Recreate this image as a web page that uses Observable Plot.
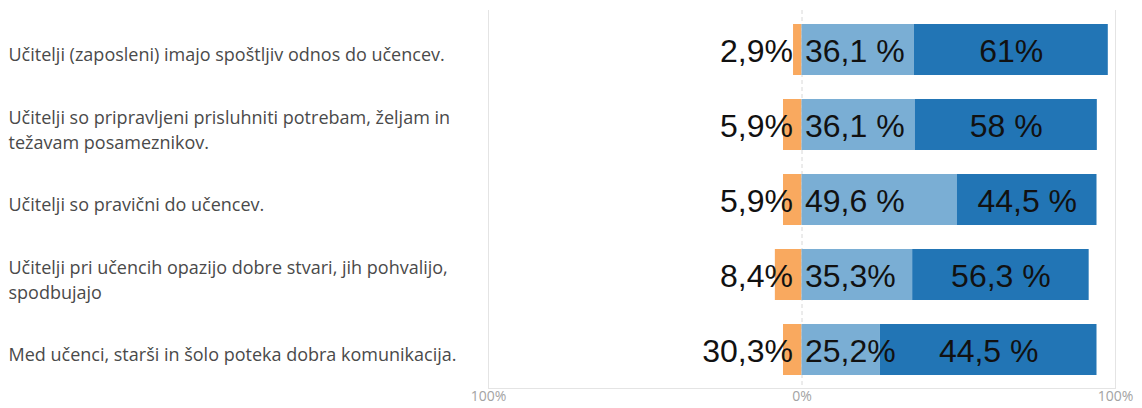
<!DOCTYPE html>
<html><head><meta charset="utf-8">
<script src="https://cdn.jsdelivr.net/npm/d3@7"></script>
<script src="https://cdn.jsdelivr.net/npm/@observablehq/plot@0.6"></script>
<style>body{margin:0;background:#fff}</style>
</head><body><div id="chart"></div>
<script>
const categories = [
  "Učitelji (zaposleni) imajo spoštljiv odnos do učencev.",
  "Učitelji so pripravljeni prisluhniti potrebam, željam in težavam posameznikov.",
  "Učitelji so pravični do učencev.",
  "Učitelji pri učencih opazijo dobre stvari, jih pohvalijo, spodbujajo",
  "Med učenci, starši in šolo poteka dobra komunikacija."
];
const categoryLabels = [
  "Učitelji (zaposleni) imajo spoštljiv odnos do učencev.",
  "Učitelji so pripravljeni prisluhniti potrebam, željam in\ntežavam posameznikov.",
  "Učitelji so pravični do učencev.",
  "Učitelji pri učencih opazijo dobre stvari, jih pohvalijo,\nspodbujajo",
  "Med učenci, starši in šolo poteka dobra komunikacija."
];
const series = ["Ne drži", "Delno drži", "Drži"];
const seriesColors = ["#f9a95f", "#7aaed4", "#2275b5"];
const negative = [2.7, 5.9, 5.9, 8.5, 5.9];
const partly = [35.8, 36.1, 49.6, 35.3, 25.0];
const fully = [61.9, 58.1, 44.5, 56.3, 69.1];
const negLabels = ["2,9%", "5,9%", "5,9%", "8,4%", "30,3%"];
const partlyLabels = ["36,1 %", "36,1 %", "49,6 %", "35,3%", "25,2%"];
const fullyLabels = ["61%", "58 %", "44,5 %", "56,3 %", "44,5 %"];
const xTicks = [-100, 0, 100];
const xTickLabels = ["100%", "0%", "100%"];

const rows = categories.flatMap((c, i) => [
  {cat: c, series: series[0], value: -negative[i]},
  {cat: c, series: series[1], value: partly[i]},
  {cat: c, series: series[2], value: fully[i]}
]);
const labelRows = categories.map((c, i) => ({
  cat: c, label: categoryLabels[i],
  neg: negLabels[i], mid: partlyLabels[i], high: fullyLabels[i],
  highX: partly[i] + fully[i] / 2
}));

const valueFont = {fontFamily: "'Liberation Sans', Arial, sans-serif", fontSize: 32, fill: "#111"};

const chart = Plot.plot({
  width: 1142, height: 408,
  marginLeft: 488, marginRight: 27, marginTop: 10, marginBottom: 20,
  style: {fontFamily: "'Open Sans', sans-serif", background: "#fff"},
  x: {domain: [-100, 100], axis: null},
  y: {domain: categories, axis: null, paddingInner: 0.325, paddingOuter: 0, insetTop: 13, insetBottom: 12},
  color: {domain: series, range: seriesColors},
  marks: [
    Plot.ruleX([-100, 100], {stroke: "#e4e4e4"}),
    Plot.ruleX([0], {stroke: "#d8d8d8", strokeDasharray: "4,3"}),
    Plot.frame({anchor: "bottom", stroke: "#e4e4e4"}),
    Plot.barX(rows, Plot.stackX({x: "value", y: "cat", fill: "series", order: null})),
    Plot.text(labelRows, {x: 0, y: "cat", text: "neg", textAnchor: "end", dx: -9, dy: 2, ...valueFont}),
    Plot.text(labelRows, {x: 0, y: "cat", text: "mid", textAnchor: "start", dx: 3, dy: 2, ...valueFont}),
    Plot.text(labelRows, {x: "highX", y: "cat", text: "high", textAnchor: "middle", dy: 2, ...valueFont}),
    Plot.text(labelRows, {y: "cat", text: "label", frameAnchor: "left", textAnchor: "start", dx: -480, dy: 3, fontSize: 18, lineHeight: 1.39, fill: "#4a4a4a"}),
    Plot.axisX(xTicks, {tickSize: 0, tickPadding: 3, tickFormat: d => xTickLabels[xTicks.indexOf(d)], fontSize: 14, fill: "#a3a3a3"})
  ]
});
document.getElementById("chart").appendChild(chart);
</script>
</body></html>
